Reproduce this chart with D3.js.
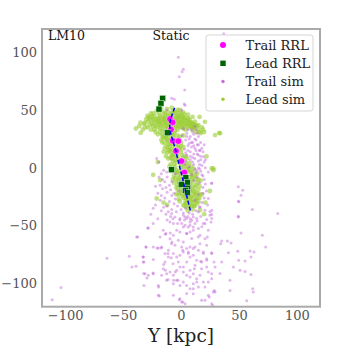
<!DOCTYPE html>
<html><head><meta charset="utf-8">
<script src="https://cdn.jsdelivr.net/npm/d3@7"></script>
<style>body{margin:0;background:#fff}svg{display:block}</style>
</head><body><svg id="c" width="359" height="346"></svg>
<script>
const tickValues = [-100, -50, 0, 50, 100];
const xDomain = [-120, 120];
const yDomain = [-120, 120];
const seriesNames = ["Trail RRL", "Lead RRL", "Trail sim", "Lead sim"];
const panelLabels = ["LM10", "Static"];
const xLabel = "Y [kpc]";

const trailRRL = [[-9.5,42.2],[-7.2,39.3],[-8.6,33.2],[-7.2,23.4],[-2.3,23.1],[-4.3,14.5],[0.4,5.8],[3.0,-4.0]];
const leadRRL = [[-15.8,60.1],[-17.3,55.8],[-19,50.8],[-11.8,30.3],[-8.2,-1.6],[4.2,-8.5],[5.5,-12.5],[0.2,-14.4],[5.8,-17.5],[3.8,-19.5],[5.5,-21.5]];
const orbitLine = [[-5.5,52],[-8,45],[-9.5,40],[-9.5,33],[-7.5,25],[-4.6,15],[-2.2,5],[0.3,-5],[2.7,-15],[5.1,-25],[8.4,-38]];

const leadSim = [
[-30,42],[-28,40],[-27,44],[-25,38],[-24,42],[-23,45],[-22,36],[-21,40],[-20,43],[-19,47],[-18,34],[-18,38],[-17,41],[-16,44],[-15,48],[-15,36],[-14,32],[-14,40],[-13,45],[-12,38],[-12,42],[-11,34],[-11,48],[-10,30],[-10,44],[-9,40],[-9,36],[-8,47],[-8,33],[-7,42],[-7,38],[-6,45],[-6,30],[-5,35],[-5,41],[-4,48],[-4,38],[-3,44],[-3,33],[-2,40],[-2,36],[-1,46],[0,42],[0,38],[1,35],[1,44],[2,40],[3,37],[3,43],[4,33],[5,41],[6,38],[7,35],[8,40],[9,36],[10,33],[11,38],[12,35],[13,31],[14,36],[15,33],[17,30],[18,35],[20,31],[16,44],[20.7,39.8],[29.4,28.3],[33,30.3],[-38.9,34],[-34.8,30.3],[-36,36],[-32,38],[-33,33],[-29,35],[-26,33],[-22,31],[-20,29],[-16,29],[-13,27],[-26,47],[-21,49],[-17,51],[-12,51],[-8,52],[-3,50],[2,48],[6,46],[10,44],[-29,45],[-31,39],
[-26,41],[-24,36],[-20,38],[-19,42],[-16,39],[-13,36],[-11,41],[-9,45],[-6,39],[-4,43],[-1,39],[1,41],[4,38],[7,42],[9,39],[12,40],[-15,42],[-8,37],[-2,43],[5,36],[-23,39],[-18,45],[-10,37],[3,46],
[-27,37],[-25,44],[-22,42],[-20,35],[-19,40],[-17,37],[-16,33],[-14,43],[-13,39],[-12,34],[-11,45],[-10,40],[-9,32],[-8,43],[-7,35],[-6,41],[-5,47],[-5,32],[-4,36],[-3,40],[-2,45],[-1,35],[0,47],[1,38],[2,34],[2,44],[4,41],[6,43],[7,39],[8,36],[10,38],[11,35],[13,37],[15,37],[-28,43],[-24,47],[-14,47],[-7,49],[-1,50],[-23,33],[-18,31],[-12,30],[-8,30],[16,31],[19,33],[-35,39],[-31,35],
[-15,26],[-12,24],[-10,27],[-8,22],[-6,26],[-4,21],[-2,25],[0,22],[-14,21],[-11,20],[2,28],[-17,24],[-13,28],[-7,28],[-3,28],[-9,25],[-16,27],
[-16,22],[-13,25],[-11,23],[-9,21],[-7,24],[-5,23],[-3,24],[-1,27],
[-14,17],[-12,13],[-10,18],[-8,11],[-6,15],[-4,19],[-3,12],[-1,16],[1,11],[2,18],[-13,10],[-9,14],[-7,19],[-11,15],[-5,10],[0,14],[-15,14],[-2,20],
[-12,18],[-10,15],[-8,16],[-6,12],[-4,14],[-2,17],[0,19],
[-11,8],[-9,3],[-7,6],[-5,1],[-3,9],[-1,4],[1,7],[3,2],[5,8],[7,4],[-6,-1],[0,0],[-10,1],[9,1],[-8,8],[-4,5],[2,5],[4,10],
[-9,9],[-7,11],[-5,7],[-2,7],[0,3],[2,9],[4,4],[6,1],[-6,3],
[-8,-3],[-6,-7],[-4,-2],[-2,-9],[0,-5],[2,-1],[4,-6],[6,-3],[8,-8],[10,-4],[12,-7],[-1,-8],[3,-9],[7,-1],[14,-5],[11,-1],[-3,-5],[5,-10],[9,-6],[-7,-10],
[-4,-4],[-2,-3],[1,-3],[3,-5],[5,-1],[8,-3],[9,-10],[11,-8],[13,-15],[15,-10],
[-6,-13],[-4,-17],[-2,-12],[0,-19],[2,-15],[4,-11],[6,-18],[8,-14],[10,-12],[12,-17],[14,-13],[16,-16],[9,-19],[1,-11],[-3,-15],[5,-14],[11,-20],[17,-11],[13,-10],[7,-16],[-1,-16],[3,-18],
[-5,-9],[-3,-11],[-1,-13],[3,-13],[6,-12],[7,-20],[10,-16],[12,-21],[15,-19],[-3,-19],
[-4,-23],[-2,-27],[0,-22],[2,-26],[4,-29],[6,-24],[8,-21],[10,-27],[12,-24],[14,-22],[16,-26],[7,-28],[3,-23],[11,-30],[15,-29],[-1,-29],[18,-23],[9,-25],[5,-21],[13,-27],[1,-24],
[-2,-23],[1,-20],[4,-26],[6,-27],[8,-25],[11,-23],[14,-26],[16,-23],
[2,-32],[5,-34],[8,-31],[10,-36],[12,-33],[14,-31],[6,-37],[9,-33],[4,-31],[3,-33],[7,-33],[11,-33],[13,-29],[9,-29],[5,-30],
[-21,-26.5],[-18,-10.6],[26.5,-0.5],[28,-2],[16.4,-36.6],[22,10],[-20,5],[25,-20],[-15,-30],[20,-40],[10.6,35],[27.9,-0.5],[33.7,29.8],[-24,-6],[21,-30],[-12,-32]
];

const trailSim = [
[2,34],[5,30],[8,27],[4,24],[10,22],[6,19],[12,17],[8,14],[14,12],[10,9],[5,11],[15,6],[11,3],[7,1],[16,-1],[13,-4],[9,-6],[3,16],[1,28],[6,33],[11,29],[13,24],[9,18],[16,15],[12,8],[17,10],[4,6],[18,2],[7,21],[3,3],[14,20],[10,31],[12,36],[15,27],[17,22],[19,14],[16.4,15.3],[19.3,9.5],[20,5],[23.6,-3.5],[13.6,-2],[26.5,-13],[23.6,-26.5],[22,-20],[20,-10],[15,0],[18,-6],[11,12],[8,7],[14,30],
[5,27],[7,25],[9,22],[11,19],[13,15],[15,11],[17,7],[16,3],[12,-1],[10,5],[8,10],[14,-8],[17,-3],[19,-7],[21,0],[18,17],[15,20],[12,25],[9,33],[13,33],[20,20],[21,7],[6,15],[4,13],[11,-11],[16,-13],[19,-22],[21,-14],
[-15,-2],[-17,-5],[-12,-8],[-14,-12],[-10,-15],[-16,-18],[-12,-21],[-8,-24],[-14,-26],[-10,-29],[-6,-31],[-12,-33],[-8,-36],[-4,-38],[-18,-28],[-20,-22],[-22,-32],[-3,-33],[0,-36],[2,-39],[4,-35],[7,-39],[10,-40],[13,-37],[16,-34],[18,-30],[20,-26],[15,-23],[19,-17],[8,-18],[5,-25],[-2,-20],[-6,-22],[-8,-12],[-5,-5],[0,-12],[12,-28],[-9,-42],[-1,-45],[6,-42],[-13,-40],[-17,-37],[-24,-35],[-26,-40],[23,-32],[25,-38],[-21,8.1],[-12.3,-3.5],[-18,-15],[-19,5],
[-19,-8],[-16,-10],[-22,-16],[-13,-17],[-9,-19],[-17,-24],[-15,-34],[-5,-27],[-11,-38],[-7,-44],[3,-45],[8,-44],[17,-42],[-3,-48],[-12,-45],[-20,-44],[14,-46],[18,-51],[-24,-48],
[-2.3,95.6],[2,85.2],[0.9,83.1],[-1.5,78.8],[3.2,67.3],[36.9,115.8],[2.8,55.2],[-8,60.1],[-5.8,59.2],[-12.3,50],[0.6,50],[3.5,54],
[49.5,-16.4],[53.3,-19.3],[51.8,-23.6],[50,-29.4],[61.6,-36],[83.5,-39.5],[49.5,-41.8],[26.5,-13.5],
[-28.2,-51.9],[-30.2,-68.4],[-32.5,-77.0],[-32.0,-81.4],[-23.9,-68.4],[-19.6,-69.2],[-16.7,-68.4],[-13.0,-56.8],[-9.5,-61.2],[-6.6,-58.3],[-8.1,-65.5],[-5.2,-66.9],[-3.7,-53.9],[-0.9,-55.4],[2.0,-51.1],[4.9,-56.8],[7.8,-55.4],[10.6,-51.1],[9.2,-45.3],[12.1,-48.2],[15.0,-52.5],[16.4,-58.3],[20.7,-61.2],[23.6,-53.9],[26.5,-43.8],[25.0,-41.0],[20.7,-48.2],[22.2,-66.9],[26.5,-74.1],[22.2,-78.5],[17.8,-81.4],[13.5,-79.9],[10.6,-75.6],[7.8,-77.0],[4.9,-81.4],[2.0,-72.7],[-0.9,-75.6],[-2.3,-81.4],[-3.7,-77.0],[-6.6,-74.1],[-10.9,-77.0],[-13.8,-81.4],[-15.3,-87.1],[-12.4,-91.5],[-9.5,-90.0],[-6.6,-92.9],[-3.7,-88.6],[-0.9,-85.7],[2.0,-90.0],[4.9,-92.9],[7.8,-88.6],[10.6,-91.5],[13.5,-95.8],[16.4,-92.9],[19.3,-98.7],[23.6,-98.7],[26.5,-91.5],[29.4,-107.3],[23.6,-110.2],[20.7,-103.0],[15.0,-103.0],[10.6,-100.1],[7.8,-104.4],[4.9,-101.6],[2.0,-98.7],[-0.9,-101.6],[-3.7,-97.2],[-6.6,-100.1],[-12.4,-97.2],[-16.7,-92.9],[-19.6,-101.6],[-23.9,-91.5],[-28.2,-92.9],[-31.1,-91.5],[-32.0,-101.6],[-6.6,-110.2],[-0.9,-113.1],[0.6,-116.0],[3.5,-117.4],[10.6,-108.8],[17.8,-114.5],[26.5,-117.4],[-19.6,-110.2],[-8.1,-39.5],[-5.2,-42.4],[-0.9,-43.8],[2.0,-41.0],[4.9,-43.8],[7.8,-46.7],[-6.6,-48.2],[-9.5,-46.7],[0.6,-48.2],[3.5,-49.6],[6.3,-51.1],[10.6,-42.4],[13.5,-43.8],[-2.3,-62.6],[2.0,-64.0],[7.8,-68.4],[10.6,-69.8],[4.9,-69.8],[0.6,-68.4],[6.3,-72.7],[12.1,-84.2],[17.8,-87.1],[22.2,-85.7],[19.3,-72.7],[15.0,-71.3],[-10.9,-71.3],[-13.8,-74.1],[-15.3,-53.9],[-18.1,-59.7],[20.7,-36.6],[16.4,-33.7],[15.0,-38.1],[26.5,-36.6],
[-111.2,-113.9],[-103.6,-103.5],[-63.9,-78.2],[-37.4,-59.7],[-38.3,-59.7],[-44.6,-76.5],[-38.8,-85.1],[-42.3,-85.7],[-32.8,-77],[-32.6,-81.4],[-30.2,-68.4],[-23.9,-79.3],[-32.2,-91.4],[-29.4,-95.2],[-24.2,-90.9],[-19.3,-103],[-18.7,-110.8],[-20.7,-69.3],[-17,-69.3],[-13.5,-57.4],[-11.2,-74.1],[-14.9,-83.6],[-13.5,-88.6],[-11.2,-96.4],[-6.3,-97.2],[-9.2,-56.3],[-7.8,-64],[-6.9,-82.8],[-8.4,-77.6],[-4.9,-90],[-2.6,-97.2],[-1.5,-113.9],[-28.8,-52],
[49.5,-28.8],[49.5,-42.4],[51.8,-56.3],[70.2,-58.3],[73.1,-68.4],[26.5,-40.3],[22.2,-44.7],[19.3,-48.1],[25.9,-46.7],[22.7,-59.7],[35.1,-63.2],[40,-63.2],[43.2,-64.9],[34.3,-65.5],[49,-72.1],[40.9,-73.3],[59.6,-71.9],[63,-72.7],[60.4,-77],[55.3,-80.4],[49.8,-79.9],[45.2,-85.7],[51,-88.6],[55.3,-89.5],[60.4,-92.1],[61.9,-104.4],[62.4,-107.4],[42.3,-105.9],[56.7,-114.8],[35.1,-81.4],[33.7,-91.4],[28.8,-105.9],[24.4,-111.7],[27.4,-118.9],[42.3,-97.2],[29.4,-85.7],[23.6,-90],[26.5,-95.8],[22.2,-79.9],[17,-80.8],[19.3,-74.1],[26.5,-73.3],[28.5,-81.4],[16.4,-65.5],[12.1,-68.4],[14.9,-59.7],[10.6,-53.9],[4.9,-56.8],[1.5,-71.3],[6.3,-74.1],[2,-85.7],[7.8,-94.4],[13.6,-98.7],[10.6,-104.4],[4.9,-108.7],[1.5,-116],[20.7,-114.5],[27.9,-107.4],[11.5,-87.1],[3.5,-42.4],[7.8,-49.6],[9.2,-61.1]
];

const svg = d3.select("#c");
const x = d3.scaleLinear().domain(xDomain).range([42, 320]);
const y = d3.scaleLinear().domain(yDomain).range([306.7, 29]);
const serif = "'DejaVu Serif', serif";

const plot = svg.append("g");
plot.append("g").selectAll("circle").data(leadSim).join("circle")
  .attr("cx", d => x(d[0])).attr("cy", d => y(d[1])).attr("r", 2.4)
  .attr("fill", "#9acd32").attr("fill-opacity", 0.6);
plot.append("g").selectAll("circle").data(trailSim).join("circle")
  .attr("cx", d => x(d[0])).attr("cy", d => y(d[1])).attr("r", 1.5)
  .attr("fill", "#ba55d3").attr("fill-opacity", 0.42);
plot.append("g").selectAll("circle").data(trailRRL).join("circle")
  .attr("cx", d => x(d[0])).attr("cy", d => y(d[1])).attr("r", 3.3)
  .attr("fill", "#ff00ff").attr("stroke", "#fff").attr("stroke-width", 0.5);
plot.append("g").selectAll("rect").data(leadRRL).join("rect")
  .attr("x", d => x(d[0]) - 3).attr("y", d => y(d[1]) - 3).attr("width", 6).attr("height", 6)
  .attr("fill", "#006400").attr("stroke", "#e8f5e0").attr("stroke-width", 0.5);
plot.append("path").datum(orbitLine)
  .attr("d", d3.line().x(d => x(d[0])).y(d => y(d[1])).curve(d3.curveCatmullRom))
  .attr("fill", "none").attr("stroke", "#0000ff").attr("stroke-width", 1.5).attr("stroke-dasharray", "4,2");

// frame
svg.append("rect").attr("x", 42).attr("y", 29).attr("width", 278).attr("height", 277.7)
  .attr("fill", "none").attr("stroke", "#aaaaaa").attr("stroke-width", 2);

// axes
const ax = svg.append("g").attr("transform", "translate(0,306.7)")
  .call(d3.axisBottom(x).tickValues(tickValues).tickSize(0).tickPadding(4));
const ay = svg.append("g").attr("transform", "translate(42,0)")
  .call(d3.axisLeft(y).tickValues(tickValues).tickSize(0).tickPadding(5));
[ax, ay].forEach(g => {
  g.select(".domain").remove();
  g.selectAll("text").attr("font-family", serif).attr("font-size", 13).attr("fill", "#555");
});

svg.append("text").attr("x", 181).attr("y", 342).attr("text-anchor", "middle")
  .attr("font-family", serif).attr("font-size", 18.5).attr("fill", "#222").text(xLabel);
svg.append("text").attr("x", 48).attr("y", 40).attr("font-family", serif).attr("font-size", 12.5).attr("fill", "#111").text(panelLabels[0]);
svg.append("text").attr("x", 152.5).attr("y", 40).attr("font-family", serif).attr("font-size", 12.5).attr("fill", "#111").text(panelLabels[1]);

// legend
const lg = svg.append("g");
lg.append("rect").attr("x", 206).attr("y", 35).attr("width", 107).attr("height", 76).attr("rx", 2.5)
  .attr("fill", "#fff").attr("fill-opacity", 0.85).attr("stroke", "#d5d5d5").attr("stroke-width", 1);
const ly = [45, 63.3, 81.5, 99.3];
seriesNames.forEach((n, i) => {
  const cy = ly[i];
  if (i === 0) lg.append("circle").attr("cx", 223).attr("cy", cy).attr("r", 3).attr("fill", "#ff00ff");
  if (i === 1) lg.append("rect").attr("x", 220.3).attr("y", cy - 2.7).attr("width", 5.4).attr("height", 5.4).attr("fill", "#006400");
  if (i === 2) lg.append("circle").attr("cx", 223).attr("cy", cy).attr("r", 1.7).attr("fill", "#ba55d3").attr("fill-opacity", 0.85);
  if (i === 3) lg.append("circle").attr("cx", 223).attr("cy", cy).attr("r", 1.7).attr("fill", "#9acd32");
  lg.append("text").attr("x", 245.5).attr("y", cy + 4.6).attr("font-family", serif).attr("font-size", 13)
    .attr("fill", "#222").text(n);
});
</script></body></html>
